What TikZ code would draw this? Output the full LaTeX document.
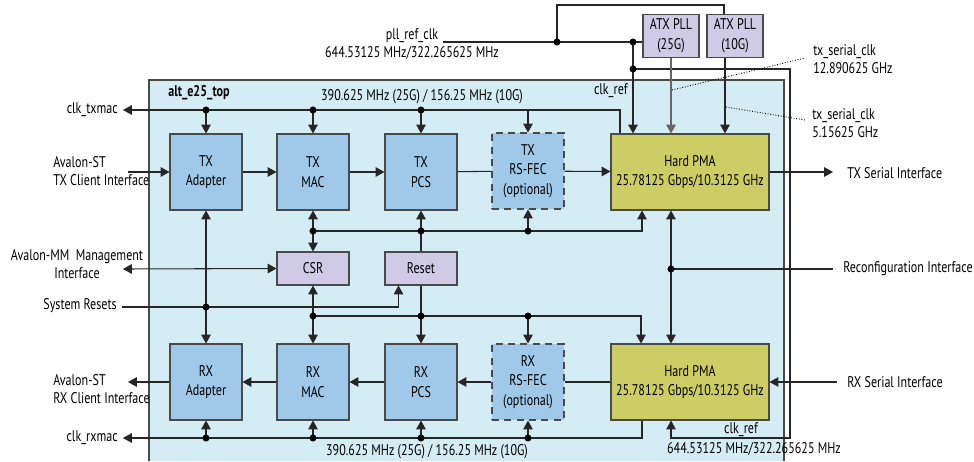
\documentclass[tikz,border=0pt]{standalone}
\usepackage{fontspec}
\setmainfont{PT Sans}[FakeStretch=0.78]
\usepackage{xcolor}
\usetikzlibrary{arrows.meta,calc}

\definecolor{topfill}{HTML}{D4ECF3}
\definecolor{blkfill}{HTML}{9FC8E9}
\definecolor{pmafill}{HTML}{CDCD66}
\definecolor{lavfill}{HTML}{CFCBE6}
\definecolor{edgegray}{HTML}{4A4A4A}

\tikzset{
  wire/.style={draw=black!85,line width=0.6pt},
  arr/.style={-{Triangle[width=5.4pt,length=5pt]}},
  darr/.style={{Triangle[width=5.4pt,length=5pt]}-{Triangle[width=5.4pt,length=5pt]}},
  blk/.style={draw=edgegray,fill=blkfill,line width=0.6pt,minimum width=1.44cm,
    minimum height=1.52cm,inner sep=0pt,align=center,
    font=\fontsize{8.8}{11.2}\selectfont},
  optblk/.style={blk,dash pattern=on 4pt off 3pt},
  pmablk/.style={blk,fill=pmafill,minimum width=3.16cm},
  ctlblk/.style={blk,fill=lavfill,minimum height=0.66cm},
  pllblk/.style={blk,fill=lavfill,minimum width=1.12cm,minimum height=0.86cm},
  jn/.style={circle,fill=black,inner sep=0pt,minimum size=4pt},
  lbl/.style={inner sep=0pt,outer sep=3pt,align=left},
}

\begin{document}
\begin{tikzpicture}[x=0.02cm,y=-0.02cm,font=\fontsize{8.8}{10}\selectfont]
\useasboundingbox (0,0) rectangle (974,461);
% alt_e25_top frame
\fill[topfill] (149,80) rectangle (784,461);
\draw[edgegray,line width=0.6pt] (149,461) -- (149,80) -- (784,80) -- (784,461);
\node[lbl,anchor=west,font=\fontsize{8.8}{10}\selectfont\bfseries] (top) at (163,93) {alt\_e25\_top};

% TX and RX blocks
\foreach \nm/\cx/\lb in {a/206/Adapter,m/313/MAC,p/421/PCS}{
  \node[blk] (tx\nm) at (\cx,172) {TX\\\lb};
  \node[blk] (rx\nm) at (\cx,382) {RX\\\lb};
}
\node[optblk] (txf) at (528,171) {TX\\RS-FEC\\(optional)};
\node[optblk] (rxf) at (528,382) {RX\\RS-FEC\\(optional)};
\node[pmablk] (txpma) at (690,172) {Hard PMA\\25.78125 Gbps/10.3125 GHz};
\node[pmablk] (rxpma) at (690,382) {Hard PMA\\25.78125 Gbps/10.3125 GHz};
\node[ctlblk] (csr) at (313,268.5) {CSR};
\node[ctlblk] (rst) at (421,268.5) {Reset};
\node[pllblk] (atx25) at (671,36) {ATX PLL\\(25G)};
\node[pllblk] (atx10) at (735,36) {ATX PLL\\(10G)};

% outside labels
\node[lbl,anchor=center,align=center] (pllclk) at (412,44) {pll\_ref\_clk\\644.53125 MHz/322.265625 MHz};
\node[lbl,anchor=east] (clktx) at (123,110) {clk\_txmac};
\node[lbl,anchor=west] (avtx) at (48,171) {Avalon-ST\\TX Client Interface};
\node[lbl,anchor=center,align=center] (avmm) at (77,264) {Avalon-MM\ \ Management\\Interface};
\node[lbl,anchor=east] (sysrst) at (122,306) {System Resets};
\node[lbl,anchor=west] (avrx) at (48,389) {Avalon-ST\\RX Client Interface};
\node[lbl,anchor=east] (clkrx) at (123,438) {clk\_rxmac};
\node[lbl] (txfreq) at (422,97) {390.625 MHz (25G) / 156.25 MHz (10G)};
\node[lbl] (rxfreq) at (427,452) {390.625 MHz (25G) / 156.25 MHz (10G)};
\node[lbl,anchor=east] (clkref1) at (633,91) {clk\_ref};
\node[lbl] (clkref2) at (741,430) {clk\_ref};
\node[lbl] (reffreq) at (754,449) {644.53125 MHz/322.265625 MHz};
\node[lbl,anchor=west] (txser) at (842,173) {TX Serial Interface};
\node[lbl,anchor=west] (rcfglbl) at (838,269) {Reconfiguration Interface};
\node[lbl,anchor=west] (rxser) at (842,382) {RX Serial Interface};
\node[lbl,anchor=west] (sclk25) at (808,59) {tx\_serial\_clk\\12.890625 GHz};
\node[lbl,anchor=west] (sclk10) at (807,123) {tx\_serial\_clk\\5.15625 GHz};

% free ends
\coordinate (txck) at (620,110);
\coordinate (rxck) at (642,438);
\coordinate (txbus) at (642,231);
\coordinate (rxbus) at (641,316);
\coordinate (rcfg) at (671,269);
\coordinate (rcfgin) at (833,269);
\coordinate (rstin) at (122,307);
\coordinate (avtxin) at (128,172);
\coordinate (avrxout) at (128,382);
\coordinate (avmmio) at (123,269);
\coordinate (txserout) at (833,172);
\coordinate (rxserin) at (837,382);
\coordinate (pllin) at (443,42);
\coordinate (pllj1) at (557,42);
\coordinate (pllj2) at (633,42);
\coordinate (refj) at (633,69);
\coordinate (pllup) at (724,5);
\coordinate (refrt) at (790,438);
\coordinate (refbt) at (671,438);
\coordinate (atx10out) at ($(atx10.south)+(-10,0)$);

% clocks
\draw[wire,arr] (txck |- txpma.north) -- (txck) -- (clktx.east);
\foreach \b in {txa,txm,txp,txf}
  \draw[wire,arr] (\b.north |- txck) -- (\b.north);
\foreach \b in {txa,txm,txp}
  \node[jn] at (\b.north |- txck) {};
\draw[wire,arr] (rxck |- rxpma.south) -- (rxck) -- (clkrx.east);
\foreach \b in {rxa,rxm,rxp,rxf}{
  \draw[wire,arr] (\b.south |- rxck) -- (\b.south);
  \node[jn] at (\b.south |- rxck) {};
}

% data paths
\draw[wire,arr] (avtxin) -- (txa.west);
\draw[wire,arr] (txa) -- (txm);
\draw[wire,arr] (txm) -- (txp);
\draw[wire] (txp) -- (txf);
\draw[wire,arr] (txf) -- (txpma);
\draw[wire,arr] (txpma) -- (txserout);
\draw[wire,arr] (rxserin) -- (rxpma.east);
\draw[wire] (rxpma) -- (rxf);
\draw[wire,arr] (rxf) -- (rxp);
\draw[wire,arr] (rxp) -- (rxm);
\draw[wire,arr] (rxm) -- (rxa);
\draw[wire,arr] (rxa.west) -- (avrxout);

% control
\draw[wire,darr] (avmmio) -- (csr.west);
\draw[wire,darr] (txa.south) -- (rxa.north);
\draw[wire,arr] (rstin) -| ($(rst.south west)+(14,0)$);
\node[jn] at (txa.south |- rstin) {};
\draw[wire,arr] (txm.south |- txbus) -- (txbus) -- (txbus |- txpma.south);
\draw[wire,darr] (txm.south) -- (csr.north);
\draw[wire,arr] (rst.north) -- (txp.south);
\draw[wire,arr] (txf.south |- txbus) -- (txf.south);
\draw[wire,arr] (rxm.north |- rxbus) -- (rxbus) -- (rxbus |- rxpma.north);
\draw[wire,darr] (csr.south) -- (rxm.north);
\draw[wire,arr] (rst.south) -- (rxp.north);
\draw[wire,arr] (rxf.north |- rxbus) -- (rxf.north);
\foreach \b in {txm,txp,txf}
  \node[jn] at (\b.south |- txbus) {};
\foreach \b in {rxm,rxp,rxf}
  \node[jn] at (\b.north |- rxbus) {};
\draw[wire,darr] (rcfg |- txpma.south) -- (rcfg |- rxpma.north);
\draw[wire] (rcfgin) -- (rcfg);
\node[jn] at (rcfg) {};

% reference clock and PLLs
\draw[wire] (pllin) -- (pllin -| atx25.west);
\draw[wire] (pllj1) |- (pllup) -- (pllup |- atx10.north);
\draw[wire,arr] (pllj2) -- (pllj2 |- txpma.north);
\draw[wire,arr] (refj) -| (refrt) -- (refbt) -- (refbt |- rxpma.south);
\foreach \j in {pllj1,pllj2,refj}
  \node[jn] at (\j) {};
\draw[wire,draw=black!60,arr] (atx25.south) -- (atx25.south |- txpma.north);
\draw[wire,arr] (atx10out) -- (atx10out |- txpma.north);
\draw[densely dotted,line width=0.5pt] (672,90) -- (805,58);
\draw[densely dotted,line width=0.5pt] (726,107) -- (805,120);
\end{tikzpicture}
\end{document}
